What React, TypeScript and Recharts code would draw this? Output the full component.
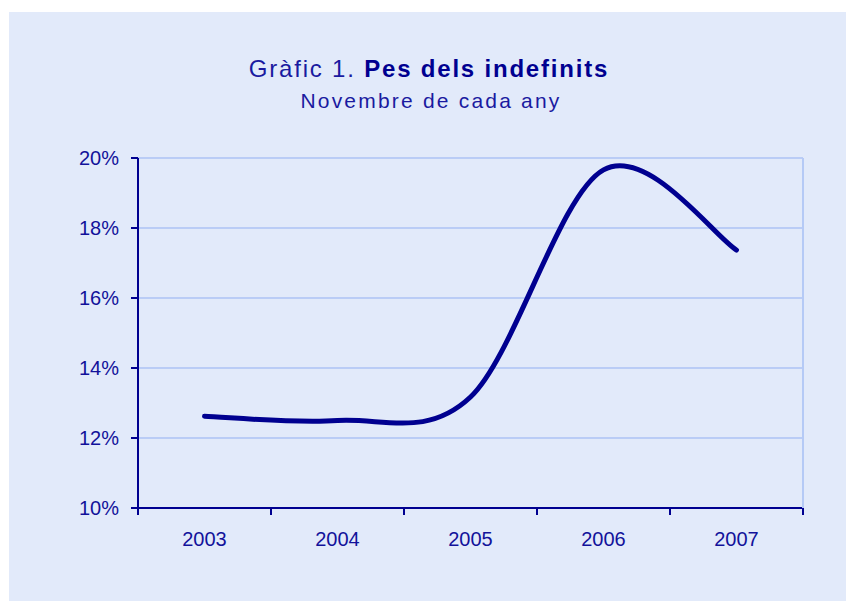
import React from 'react';
import { LineChart, Line, XAxis, YAxis, CartesianGrid } from 'recharts';

const years = ['2003', '2004', '2005', '2006', '2007'];
const shareValues = [12.62, 12.5, 13.17, 19.66, 17.37];
const yTicks = [10, 12, 14, 16, 18, 20];

const data = years.map((y, i) => ({ i, year: y, share: shareValues[i] }));
const boundaryTicks = years.map((_, i) => i - 0.5).concat([years.length - 0.5]);
const centerTicks = years.map((_, i) => i);
const xDomain: [number, number] = [-0.5, years.length - 0.5];

// Catmull-Rom style smoothing (like spreadsheet "smoothed line")
const catmullRom = (context: any) => {
  let pts: number[][] = [];
  return {
    areaStart() {},
    areaEnd() {},
    lineStart() {
      pts = [];
    },
    lineEnd() {
      if (!pts.length) return;
      context.moveTo(pts[0][0], pts[0][1]);
      for (let k = 0; k < pts.length - 1; k++) {
        const p0 = pts[k - 1] || pts[k];
        const p1 = pts[k];
        const p2 = pts[k + 1];
        const p3 = pts[k + 2] || pts[k + 1];
        const c1x = p1[0] + (p2[0] - p0[0]) / 6;
        const c1y = p1[1] + (p2[1] - p0[1]) / 6;
        const c2x = p2[0] - (p3[0] - p1[0]) / 6;
        const c2y = p2[1] - (p3[1] - p1[1]) / 6;
        context.bezierCurveTo(c1x, c1y, c2x, c2y, p2[0], p2[1]);
      }
    },
    point(x: number, y: number) {
      pts.push([+x, +y]);
    },
  };
};

const NAVY = '#000090';
const TEXT = '#12129a';
const FONT = '"Liberation Sans", Arial, Helvetica, sans-serif';

export default function App() {
  return (
    <div style={{ position: 'relative', width: 846, height: 593, fontFamily: FONT }}>
      <div
        style={{ position: 'absolute', left: 1, top: 4, right: 0, bottom: 0, background: '#E2EAFA' }}
      />
      <div style={{ position: 'absolute', left: 0, top: 0 }}>
        <LineChart
          width={846}
          height={593}
          data={data}
          margin={{ top: 150, right: 50, left: 0, bottom: 53 }}
        >
          <CartesianGrid vertical={false} stroke="#92AFF2" strokeWidth={1} yAxisId="left" />
          <XAxis
            xAxisId="frame"
            type="number"
            dataKey="i"
            domain={xDomain}
            ticks={boundaryTicks}
            interval={0}
            tickFormatter={() => ''}
            tick={{ fill: 'none', fontSize: 1 }}
            tickSize={7}
            height={1}
            axisLine={{ stroke: NAVY, strokeWidth: 2 }}
            tickLine={{ stroke: NAVY, strokeWidth: 2 }}
          />
          <XAxis
            xAxisId="labels"
            type="number"
            dataKey="i"
            domain={xDomain}
            ticks={centerTicks}
            interval={0}
            tickFormatter={(v: number) => years[v]}
            axisLine={false}
            tickLine={false}
            tickSize={6}
            tickMargin={17}
            height={39}
            tick={{ fill: TEXT, fontSize: 20, fontFamily: FONT }}
          />
          <YAxis
            yAxisId="left"
            domain={[10, 20]}
            ticks={yTicks}
            tickFormatter={(v: number) => `${v}%`}
            width={130}
            tickSize={7}
            tickMargin={12}
            axisLine={{ stroke: NAVY, strokeWidth: 2 }}
            tickLine={{ stroke: NAVY, strokeWidth: 2 }}
            tick={{ fill: TEXT, fontSize: 20, fontFamily: FONT }}
          />
          <YAxis
            yAxisId="right"
            orientation="right"
            domain={[10, 20]}
            width={1}
            tick={false}
            tickLine={false}
            axisLine={{ stroke: '#B5CAF6', strokeWidth: 2 }}
          />
          <Line
            xAxisId="frame"
            yAxisId="left"
            dataKey="share"
            type={catmullRom as any}
            stroke={NAVY}
            strokeWidth={5}
            strokeLinecap="round"
            dot={false}
            activeDot={false}
            isAnimationActive={false}
          />
        </LineChart>
      </div>
      <svg
        width={846}
        height={130}
        style={{ position: 'absolute', left: 0, top: 0, pointerEvents: 'none' }}
      >
        <text
          x={421}
          y={69}
          textAnchor="middle"
          fontSize={24}
          letterSpacing={1.8}
          fill={NAVY}
          fontFamily={FONT}
        >
          <tspan fill="#1a1aa0">{'Gràfic 1. '}</tspan>
          <tspan fontWeight="bold">Pes dels indefinits</tspan>
        </text>
        <text
          x={423}
          y={100}
          textAnchor="middle"
          fontSize={21}
          letterSpacing={2.2}
          fill="#1a1aa0"
          fontFamily={FONT}
        >
          Novembre de cada any
        </text>
      </svg>
    </div>
  );
}
